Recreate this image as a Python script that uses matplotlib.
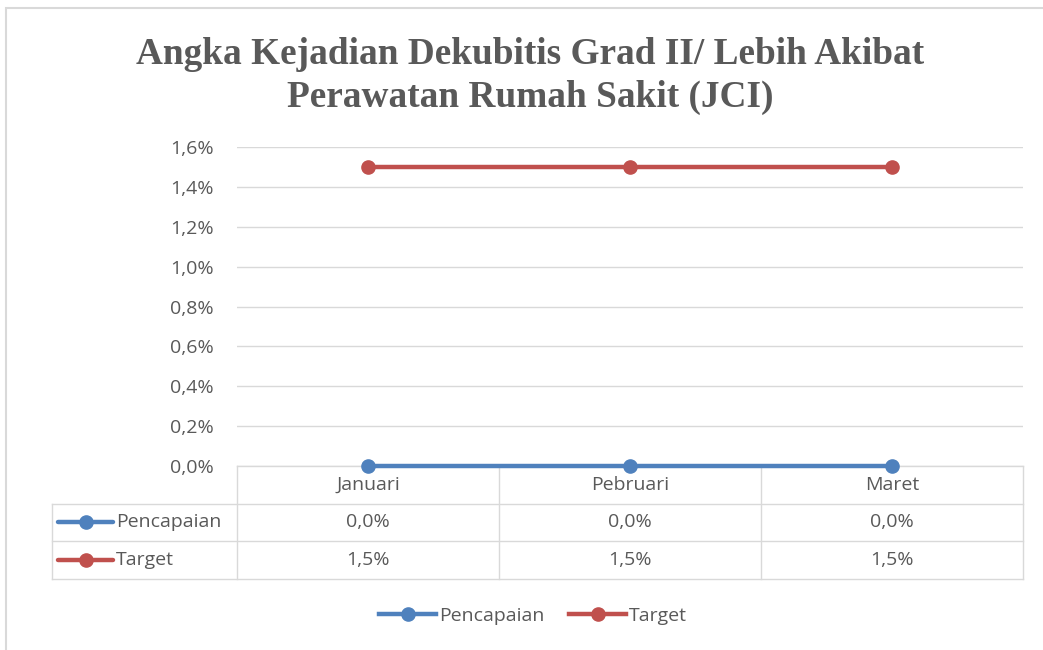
import matplotlib
matplotlib.use("Agg")
from matplotlib import pyplot as plt
from matplotlib.lines import Line2D
from matplotlib.patches import Rectangle
from matplotlib.ticker import FuncFormatter
import matplotlib.transforms as mtransforms

title = "Angka Kejadian Dekubitis Grad II/ Lebih Akibat\nPerawatan Rumah Sakit (JCI)"
months = ["Januari", "Pebruari", "Maret"]
series_names = ["Pencapaian", "Target"]
pencapaian = [0.0, 0.0, 0.0]
target = [1.5, 1.5, 1.5]
colors = ["#4F81BD", "#C0504D"]
yticks = [0.0, 0.2, 0.4, 0.6, 0.8, 1.0, 1.2, 1.4, 1.6]

text_color = "#595959"
grid_color = "#D9D9D9"
fs = 14
plt.rcParams["font.family"] = ["Open Sans", "DejaVu Sans"]

W, H = 1043, 650
fig = plt.figure(figsize=(W / 100, H / 100), dpi=100)

# chart frame
fig.patches.append(Rectangle((6 / W, -0.1), 1.2, (H - 8) / H + 0.1,
                             transform=fig.transFigure, fill=False,
                             edgecolor=grid_color, lw=1.5))

ax_l, ax_r, ax_t, ax_b = 237, 1023, 147, 466
ax = fig.add_axes([ax_l / W, 1 - ax_b / H, (ax_r - ax_l) / W, (ax_b - ax_t) / H])

x = range(len(months))
data = [pencapaian, target]
for vals, c in zip(data, colors):
    ax.plot(x, vals, color=c, lw=3.2, marker="o", ms=9.5, solid_capstyle="round",
            zorder=3, clip_on=False)

ax.set_xlim(-0.5, len(months) - 0.5)
ax.set_ylim(0, 1.6)
ax.set_yticks(yticks)
ax.yaxis.set_major_formatter(FuncFormatter(lambda v, p: f"{v:.1f}%".replace(".", ",")))
ax.tick_params(axis="y", length=0, pad=16.5, labelsize=fs, labelcolor=text_color)
ax.set_xticks([])
ax.grid(axis="y", color=grid_color, lw=1)
ax.set_axisbelow(True)
for s in ax.spines.values():
    s.set_visible(False)

# data table below the axes
tr = mtransforms.blended_transform_factory(ax.transData, ax.transAxes)
px_w = ax_r - ax_l
px_h = ax_b - ax_t
row_h = 37.5 / px_h
left_col = (52 - ax_l) / px_w
line_kw = dict(color=grid_color, lw=1, clip_on=False)

n_rows = 3
bottom = -n_rows * row_h
ax.plot([-0.5, len(months) - 0.5], [0, 0], transform=tr, **line_kw)
for r in range(1, n_rows + 1):
    ax.plot([left_col, 1], [-r * row_h, -r * row_h], transform=ax.transAxes, **line_kw)
ax.plot([left_col, left_col], [-row_h, bottom], transform=ax.transAxes, **line_kw)
for i in range(len(months) + 1):
    ax.plot([i - 0.5, i - 0.5], [0, bottom], transform=tr, **line_kw)

for i, m in enumerate(months):
    ax.text(i, -0.5 * row_h, m, transform=tr, ha="center", va="center",
            fontsize=fs, color=text_color)
for r, (name, vals, c) in enumerate(zip(series_names, data, colors)):
    yc = -(r + 1.5) * row_h
    for i, v in enumerate(vals):
        ax.text(i, yc, f"{v:.1f}%".replace(".", ","), transform=tr, ha="center",
                va="center", fontsize=fs, color=text_color)
    x0 = (58 - ax_l) / px_w
    x1 = (113 - ax_l) / px_w
    ax.plot([x0, x1], [yc, yc], transform=ax.transAxes, color=c, lw=3.2,
            solid_capstyle="round", clip_on=False)
    ax.plot([(x0 + x1) / 2], [yc], transform=ax.transAxes, color=c, marker="o",
            ms=9.5, clip_on=False)
    ax.text((116 - ax_l) / px_w, yc, name, transform=ax.transAxes, ha="left",
            va="center", fontsize=fs, color=text_color)

fig.text(530 / W, 1 - 76 / H, title, ha="center", va="center", fontsize=26.8,
         fontweight="bold", family="Liberation Serif", color=text_color,
         linespacing=1.3)

handles = [Line2D([0], [0], color=c, lw=3.2, marker="o", ms=9.5) for c in colors]
leg = fig.legend(handles, series_names, loc="center", bbox_to_anchor=(533 / W, 1 - 616 / H),
                 ncol=2, frameon=False, fontsize=fs, handlelength=2.9,
                 handletextpad=0.15, columnspacing=1.3, labelcolor=text_color)

fig.savefig("out.png", dpi=100)
